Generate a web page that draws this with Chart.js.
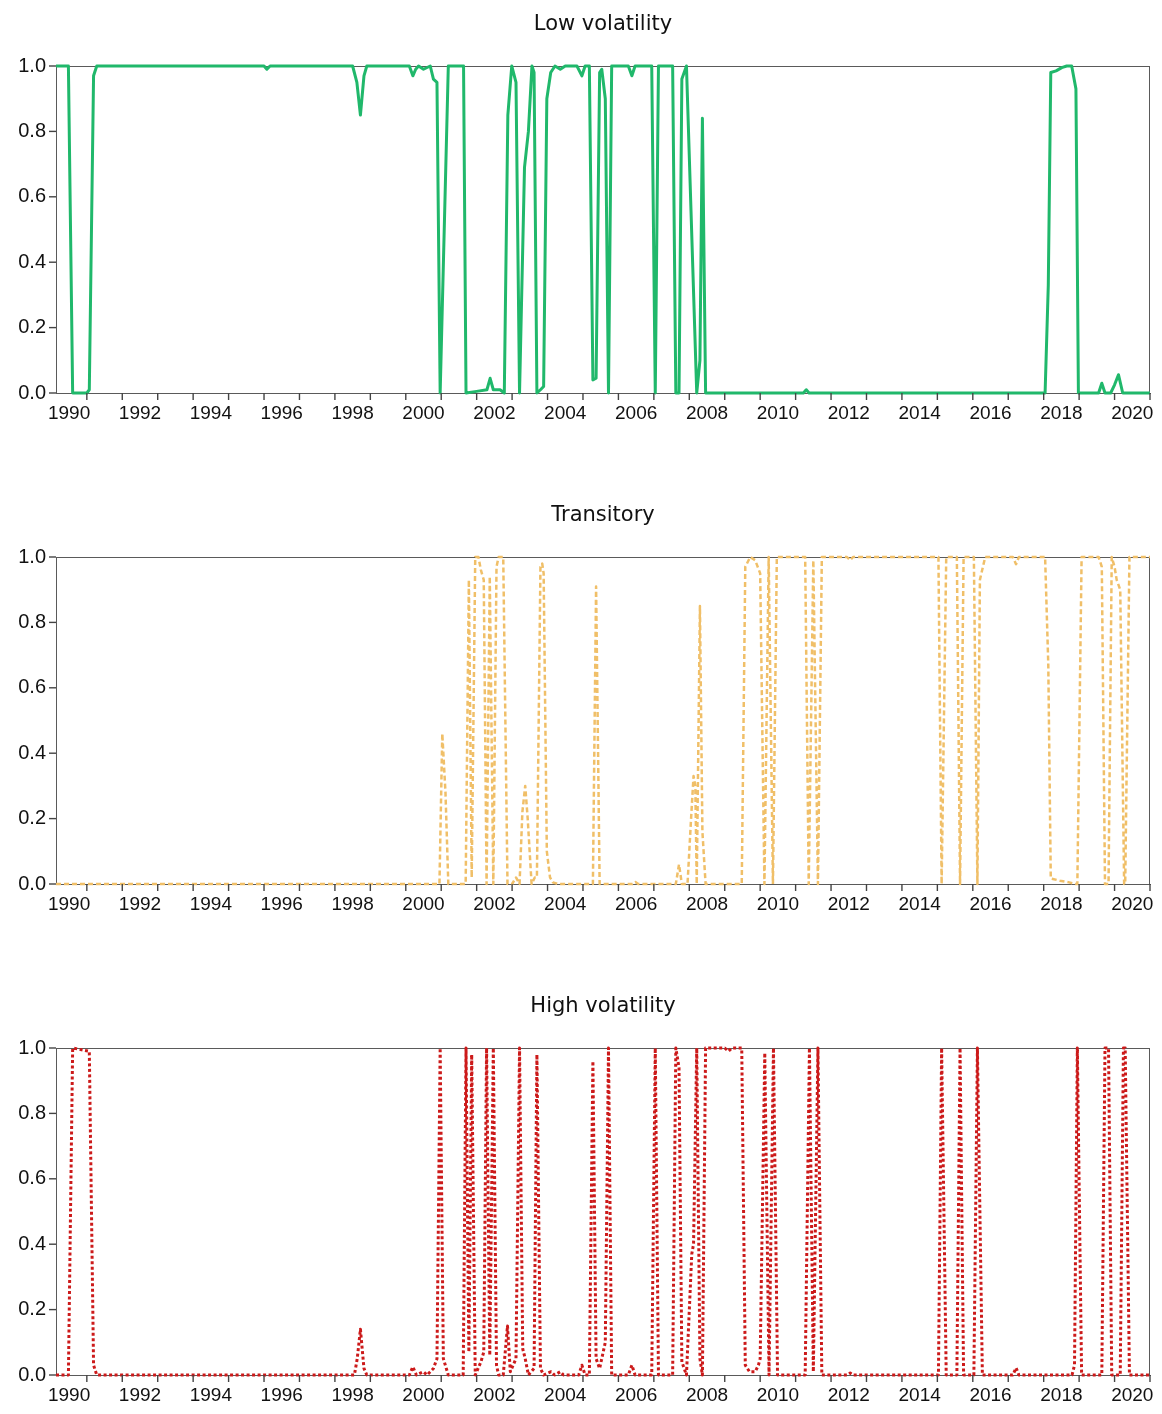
<!DOCTYPE html>
<html>
<head>
<meta charset="utf-8">
<title>Regime probabilities</title>
<script src="https://cdn.jsdelivr.net/npm/chart.js@4.4.1/dist/chart.umd.min.js"></script>
<style>
  html, body { margin: 0; padding: 0; background: #fff; }
  .page { position: relative; width: 1162px; height: 1414px; }
  .panel { position: absolute; left: 0; width: 1162px; height: 432px; }
</style>
</head>
<body>
<div class="page">
  <div class="panel" style="top:0"><canvas id="low"></canvas></div>
  <div class="panel" style="top:491px"><canvas id="trans"></canvas></div>
  <div class="panel" style="top:982px"><canvas id="high"></canvas></div>
</div>
<script>
/* global Chart */

// time axis in decimal years (monthly, Feb 1990 - Dec 2020)
const X_MIN = 1990.13;
const X_MAX = 2021.0;

const xLabelYears = [1990, 1992, 1994, 1996, 1998, 2000, 2002, 2004,
  2006, 2008, 2010, 2012, 2014, 2016, 2018, 2020];
const yTicks = [0, 0.2, 0.4, 0.6, 0.8, 1.0];

// Low volatility regime
const lowT = [1990.13, 1990.48, 1990.60, 1991.00, 1991.07, 1991.19, 1991.28,
  1996.00, 1996.08, 1996.17, 1998.50, 1998.62, 1998.72, 1998.82, 1998.90,
  2000.10, 2000.20, 2000.28, 2000.36, 2000.50, 2000.69, 2000.78, 2000.88, 2000.97,
  2001.20, 2001.63, 2001.70, 2002.00, 2002.29, 2002.38, 2002.47, 2002.66, 2002.78,
  2002.88, 2002.99, 2003.11, 2003.21, 2003.35, 2003.46, 2003.56, 2003.62, 2003.70,
  2003.80, 2003.89, 2003.98, 2004.09, 2004.21, 2004.36, 2004.50, 2004.83, 2004.97,
  2005.06, 2005.18, 2005.28, 2005.37, 2005.47, 2005.53, 2005.63, 2005.72, 2005.81,
  2006.28, 2006.38, 2006.47, 2006.94, 2007.04, 2007.13, 2007.53, 2007.62, 2007.71,
  2007.79, 2007.92, 2008.21, 2008.30, 2008.37, 2008.46, 2011.22, 2011.30, 2011.38,
  2018.04, 2018.13, 2018.20, 2018.35, 2018.51, 2018.65, 2018.79, 2018.91, 2018.98,
  2019.55, 2019.64, 2019.73, 2019.89, 2020.00, 2020.11, 2020.23, 2021.00];
const lowP = [1.0, 1.0, 0.0, 0.0, 0.01, 0.97, 1.0,
  1.0, 0.99, 1.0, 1.0, 0.95, 0.85, 0.97, 1.0,
  1.0, 0.97, 0.99, 1.0, 0.99, 1.0, 0.96, 0.95, 0.0,
  1.0, 1.0, 0.0, 0.005, 0.01, 0.045, 0.01, 0.01, 0.0,
  0.85, 1.0, 0.95, 0.0, 0.69, 0.8, 1.0, 0.98, 0.0,
  0.01, 0.02, 0.9, 0.98, 1.0, 0.99, 1.0, 1.0, 0.97,
  1.0, 1.0, 0.04, 0.045, 0.98, 0.99, 0.9, 0.0, 1.0,
  1.0, 0.97, 1.0, 1.0, 0.0, 1.0, 1.0, 0.0, 0.0,
  0.96, 1.0, 0.0, 0.1, 0.84, 0.0, 0.0, 0.01, 0.0,
  0.0, 0.33, 0.98, 0.985, 0.995, 1.0, 1.0, 0.93, 0.0,
  0.0, 0.03, 0.0, 0.0, 0.025, 0.056, 0.0, 0.0];

// Transitory regime
const transT = [1990.13, 2000.95, 2001.03, 2001.12, 2001.20, 2001.69, 2001.78,
  2001.86, 2001.96, 2002.05, 2002.12, 2002.20, 2002.28, 2002.37, 2002.47, 2002.56,
  2002.62, 2002.75, 2002.87, 2003.00, 2003.11, 2003.21, 2003.29, 2003.37, 2003.44,
  2003.55, 2003.64, 2003.70, 2003.80, 2003.85, 2003.89, 2003.98, 2004.07, 2004.15,
  2004.30, 2005.28, 2005.37, 2005.47, 2006.40, 2006.48, 2006.56, 2007.62, 2007.71,
  2007.79, 2007.95, 2008.05, 2008.12, 2008.17, 2008.21, 2008.30, 2008.37, 2008.46,
  2009.48, 2009.58, 2009.72, 2009.86, 2010.00, 2010.12, 2010.24, 2010.36, 2010.47,
  2011.27, 2011.37, 2011.50, 2011.63, 2011.74, 2012.45, 2012.54, 2012.62, 2015.03,
  2015.12, 2015.25, 2015.55, 2015.64, 2015.74, 2016.03, 2016.13, 2016.20, 2016.35,
  2017.13, 2017.22, 2017.30, 2018.04, 2018.13, 2018.20, 2018.46, 2018.72, 2018.88,
  2018.95, 2019.07, 2019.55, 2019.64, 2019.73, 2019.83, 2019.92, 2020.00, 2020.06,
  2020.16, 2020.27, 2020.30, 2020.42, 2021.00];
const transP = [0.0, 0.0, 0.46, 0.28, 0.0, 0.0, 0.93,
  0.02, 1.0, 1.0, 0.96, 0.93, 0.0, 0.94, 0.0, 0.97,
  1.0, 1.0, 0.0, 0.0, 0.02, 0.0, 0.22, 0.30, 0.2,
  0.0, 0.02, 0.02, 0.97, 0.98, 0.95, 0.1, 0.02, 0.005,
  0.0, 0.0, 0.91, 0.0, 0.0, 0.006, 0.0, 0.0, 0.06,
  0.0, 0.0, 0.2, 0.33, 0.30, 0.0, 0.85, 0.16, 0.0,
  0.0, 0.97, 1.0, 0.99, 0.95, 0.0, 1.0, 0.0, 1.0,
  1.0, 0.0, 0.99, 0.0, 1.0, 1.0, 0.99, 1.0, 1.0,
  0.0, 1.0, 1.0, 0.0, 1.0, 1.0, 0.0, 0.93, 1.0,
  1.0, 0.978, 1.0, 1.0, 0.67, 0.017, 0.01, 0.005, 0.0,
  0.0, 1.0, 1.0, 0.97, 0.0, 0.0, 1.0, 0.97, 0.93,
  0.9, 0.0, 0.0, 1.0, 1.0];

// High volatility regime
const highT = [1990.13, 1990.48, 1990.60, 1991.07, 1991.19, 1991.28,
  1998.55, 1998.63, 1998.72, 1998.82, 1998.90, 2000.10, 2000.20, 2000.30, 2000.50,
  2000.60, 2000.78, 2000.88, 2000.97, 2001.06, 2001.20, 2001.62, 2001.70, 2001.78,
  2001.86, 2001.96, 2002.12, 2002.20, 2002.28, 2002.37, 2002.47, 2002.56, 2002.62,
  2002.75, 2002.87, 2002.95, 2003.11, 2003.21, 2003.30, 2003.37, 2003.46, 2003.62,
  2003.70, 2003.80, 2003.89, 2004.10, 2004.20, 2004.36, 2004.45, 2004.88, 2004.97,
  2005.06, 2005.18, 2005.28, 2005.37, 2005.47, 2005.63, 2005.72, 2005.81, 2006.28,
  2006.38, 2006.47, 2006.94, 2007.04, 2007.13, 2007.53, 2007.62, 2007.71, 2007.79,
  2007.92, 2008.07, 2008.12, 2008.21, 2008.30, 2008.37, 2008.46, 2009.00, 2009.10,
  2009.20, 2009.48, 2009.58, 2009.70, 2009.86, 2009.95, 2010.00, 2010.13, 2010.25,
  2010.375, 2010.49, 2011.27, 2011.39, 2011.50, 2011.63, 2011.74, 2012.45, 2012.54,
  2012.62, 2015.03, 2015.12, 2015.25, 2015.55, 2015.64, 2015.74, 2016.03, 2016.13,
  2016.27, 2017.13, 2017.22, 2017.30, 2018.80, 2018.87, 2018.95, 2019.07, 2019.64,
  2019.73, 2019.83, 2019.92, 2020.16, 2020.25, 2020.30, 2020.42, 2021.00];
const highP = [0.0, 0.0, 1.0, 0.99, 0.03, 0.0,
  0.0, 0.05, 0.14, 0.02, 0.0, 0.0, 0.025, 0.0, 0.01,
  0.0, 0.02, 0.05, 1.0, 0.05, 0.0, 0.0, 1.0, 0.07,
  0.98, 0.0, 0.04, 0.07, 1.0, 0.06, 1.0, 0.03, 0.0,
  0.0, 0.15, 0.01, 0.05, 1.0, 0.08, 0.05, 0.0, 0.02,
  0.98, 0.02, 0.0, 0.01, 0.0, 0.01, 0.0, 0.0, 0.03,
  0.0, 0.0, 0.96, 0.05, 0.02, 0.1, 1.0, 0.0, 0.0,
  0.03, 0.0, 0.0, 1.0, 0.0, 0.0, 1.0, 0.94, 0.04,
  0.0, 0.37, 0.40, 1.0, 0.05, 0.0, 1.0, 1.0, 0.99,
  1.0, 1.0, 0.03, 0.01, 0.01, 0.03, 0.05, 0.985, 0.0,
  1.0, 0.0, 0.0, 1.0, 0.01, 1.0, 0.0, 0.0, 0.006,
  0.0, 0.0, 1.0, 0.0, 0.0, 1.0, 0.0, 0.0, 1.0,
  0.0, 0.0, 0.022, 0.0, 0.0, 0.03, 1.0, 0.0, 0.0,
  1.0, 1.0, 0.0, 0.0, 1.0, 1.0, 0.0, 0.0];

const AXIS_COLOR = "#5a5a5a";
const TICK_COLOR = "#444";
const TEXT_COLOR = "#111";
const TICK_LEN = 7;
const TICK_FONT = { family: "'Liberation Sans', Arial, sans-serif", size: 19 };
const Y_TICK_FONT = { family: "'Liberation Sans', Arial, sans-serif", size: 20 };
const TITLE_FONT = { family: "'DejaVu Sans', sans-serif", size: 21, weight: "normal" };

// year boundaries get tick marks, labels sit mid-year
const yearMarks = [];
for (let y = 1991; y <= 2021; y++) yearMarks.push(y);
const xTickValues = yearMarks.concat(xLabelYears.map((y) => y + 0.5)).sort((a, b) => a - b);

// full box around the plot area
const framePlugin = {
  id: "frame",
  beforeDatasetsDraw(chart) {
    const { ctx, chartArea: a } = chart;
    ctx.save();
    ctx.strokeStyle = AXIS_COLOR;
    ctx.lineWidth = 1;
    ctx.strokeRect(a.left + 0.5, a.top + 0.5, a.right - a.left - 1, a.bottom - a.top);
    ctx.restore();
  },
  // outward tick marks, placed through the scales
  afterDraw(chart) {
    const { ctx, chartArea: a, scales } = chart;
    ctx.save();
    ctx.strokeStyle = TICK_COLOR;
    ctx.lineWidth = 1.4;
    yearMarks.forEach((v) => {
      const px = scales.x.getPixelForValue(v);
      ctx.beginPath();
      ctx.moveTo(px, a.bottom);
      ctx.lineTo(px, a.bottom + TICK_LEN);
      ctx.stroke();
    });
    yTicks.forEach((v) => {
      const py = scales.y.getPixelForValue(v);
      ctx.beginPath();
      ctx.moveTo(a.left - TICK_LEN, py);
      ctx.lineTo(a.left, py);
      ctx.stroke();
    });
    ctx.restore();
  },
};

function createPanel(canvasId, title, times, probs, style) {
  const ctx = document.getElementById(canvasId).getContext("2d");
  return new Chart(ctx, {
    type: "line",
    data: {
      datasets: [{
        data: times.map((t, i) => ({ x: t, y: probs[i] })),
        borderColor: style.color,
        borderWidth: style.width,
        borderDash: style.dash,
        borderJoinStyle: "round",
        pointRadius: 0,
        tension: 0,
        fill: false,
        clip: 3,
      }],
    },
    options: {
      responsive: true,
      maintainAspectRatio: false,
      animation: false,
      events: [],
      layout: { padding: { left: 0, right: 12, top: 0, bottom: 0 } },
      plugins: {
        legend: { display: false },
        tooltip: { enabled: false },
        title: {
          display: true,
          text: title,
          fullSize: false,
          color: TEXT_COLOR,
          font: TITLE_FONT,
          padding: { top: 12, bottom: 28.8 },
        },
      },
      scales: {
        x: {
          type: "linear",
          min: X_MIN,
          max: X_MAX,
          afterBuildTicks: (axis) => { axis.ticks = xTickValues.map((v) => ({ value: v })); },
          afterFit: (axis) => { axis.height = 39; },
          grid: { display: false, drawTicks: true, tickLength: 6 },
          border: { color: AXIS_COLOR },
          ticks: {
            autoSkip: false,
            maxRotation: 0,
            padding: 3,
            color: TEXT_COLOR,
            font: TICK_FONT,
            callback: (v) => {
              const y = v - 0.5;
              return xLabelYears.includes(y) ? String(y) : "";
            },
          },
        },
        y: {
          min: 0,
          max: 1,
          afterBuildTicks: (axis) => { axis.ticks = yTicks.map((v) => ({ value: v })); },
          afterFit: (axis) => { axis.width = 56; },
          grid: { display: false, drawTicks: true, tickLength: TICK_LEN },
          border: { color: AXIS_COLOR },
          ticks: {
            padding: 3,
            color: TEXT_COLOR,
            font: Y_TICK_FONT,
            callback: (v) => Number(v).toFixed(1),
          },
        },
      },
    },
    plugins: [framePlugin],
  });
}

createPanel("low", "Low volatility", lowT, lowP,
  { color: "#20b86b", width: 3, dash: [] });
createPanel("trans", "Transitory", transT, transP,
  { color: "#f0bf68", width: 2.5, dash: [5, 3] });
createPanel("high", "High volatility", highT, highP,
  { color: "#cc1a1a", width: 3, dash: [3, 2.5] });
</script>
</body>
</html>
